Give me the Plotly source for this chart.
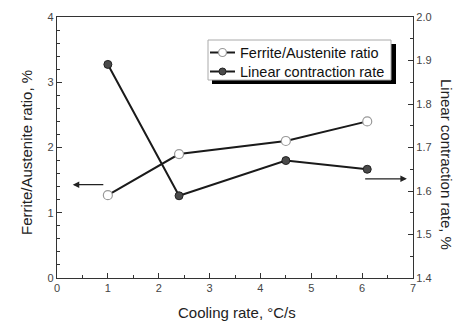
import plotly.graph_objects as go

cooling_rate = [1.0, 2.4, 4.5, 6.1]
fa_ratio = [1.27, 1.90, 2.10, 2.40]
contraction_rate = [1.891, 1.589, 1.670, 1.650]
series_names = ["Ferrite/Austenite ratio", "Linear contraction rate"]

W, H = 459, 321
L, R, T, B = 57, 46, 17, 43
pw, ph = W - L - R, H - T - B

def px(x):
    return (x - L) / pw

def py(y):
    return (H - B - y) / ph

FONT = "Liberation Sans, Arial, sans-serif"
LINE = "#1a1a1a"
OPEN_MK = dict(symbol="circle", size=9, color="white", line=dict(color="#999999", width=1.2))
FILL_MK = dict(symbol="circle", size=8, color="#4a4a4a", line=dict(color="#222222", width=1))

fig = go.Figure()
fig.add_trace(go.Scatter(
    x=cooling_rate, y=fa_ratio, name=series_names[0],
    mode="lines+markers", line=dict(color=LINE, width=2), marker=OPEN_MK, yaxis="y"))
fig.add_trace(go.Scatter(
    x=cooling_rate, y=contraction_rate, name=series_names[1],
    mode="lines+markers", line=dict(color=LINE, width=2), marker=FILL_MK, yaxis="y2"))

axis_common = dict(
    showline=True, linecolor="#333333", linewidth=1.2,
    ticks="inside", ticklen=5, tickcolor="#333333",
    showgrid=False, zeroline=False,
    tickfont=dict(family=FONT, size=11, color="#444444"),
)

fig.update_layout(
    width=W, height=H,
    margin=dict(l=L, r=R, t=T, b=B),
    paper_bgcolor="white", plot_bgcolor="white",
    font=dict(family=FONT, color="#222222"),
    xaxis=dict(range=[0, 7], dtick=1, mirror=True,
               minor=dict(dtick=0.5, ticks="inside", ticklen=3, tickcolor="#333333"),
               **axis_common),
    yaxis=dict(range=[0, 4], dtick=1,
               minor=dict(dtick=0.2, ticks="inside", ticklen=3, tickcolor="#333333"),
               **axis_common),
    yaxis2=dict(range=[1.4, 2.0], dtick=0.1, tickformat=".1f", overlaying="y", side="right",
                minor=dict(dtick=0.05, ticks="inside", ticklen=3, tickcolor="#333333"),
                **axis_common),
    showlegend=False,
)

# legend (drawn manually, with shadow)
fig.add_shape(type="rect", xref="paper", yref="paper",
              x0=px(212), x1=px(396), y0=py(84), y1=py(44),
              fillcolor="black", line=dict(width=0), layer="above")
fig.add_shape(type="rect", xref="paper", yref="paper",
              x0=px(208), x1=px(391), y0=py(80), y1=py(40),
              fillcolor="white", line=dict(color="#aaaaaa", width=1), layer="above")
rows_y = [52.5, 71.5]
for name, ry, mk in zip(series_names, rows_y, [OPEN_MK, FILL_MK]):
    fig.add_shape(type="line", xref="paper", yref="paper",
                  x0=px(210), x1=px(235), y0=py(ry), y1=py(ry),
                  line=dict(color=LINE, width=2), layer="above")
    r = (mk["size"] - 1) / 2
    fig.add_shape(type="circle", xref="paper", yref="paper",
                  x0=px(222.5 - r), x1=px(222.5 + r), y0=py(ry + r), y1=py(ry - r),
                  fillcolor=mk["color"], line=dict(color=mk["line"]["color"], width=mk["line"]["width"]),
                  layer="above")
    fig.add_annotation(x=px(238), y=py(ry), xref="paper", yref="paper", text=name,
                       xanchor="left", yanchor="middle", showarrow=False,
                       font=dict(family=FONT, size=14.5, color="#111111"))

# arrows
fig.add_annotation(x=0.31, y=1.43, ax=0.94, ay=1.43, xref="x", yref="y", axref="x", ayref="y",
                   showarrow=True, arrowhead=2, arrowsize=1, arrowwidth=1.3, arrowcolor="#222222", text="")
fig.add_annotation(x=6.88, y=1.628, ax=6.03, ay=1.628, xref="x", yref="y2", axref="x", ayref="y2",
                   showarrow=True, arrowhead=2, arrowsize=1, arrowwidth=1.3, arrowcolor="#222222", text="")

# axis titles
title_font = dict(family=FONT, size=15, color="#222222")
fig.add_annotation(x=px(26), y=py(153), xref="paper", yref="paper", text="Ferrite/Austenite ratio, %",
                   textangle=-90, showarrow=False, xanchor="center", yanchor="middle", font=title_font)
fig.add_annotation(x=px(447), y=py(165), xref="paper", yref="paper", text="Linear contraction rate, %",
                   textangle=90, showarrow=False, xanchor="center", yanchor="middle", font=title_font)
fig.add_annotation(x=px(237), y=py(312), xref="paper", yref="paper", text="Cooling rate, °C/s",
                   showarrow=False, xanchor="center", yanchor="middle", font=title_font)

fig.write_html("out.html", config={"displayModeBar": False},
               post_script="document.body.style.margin='0';")
